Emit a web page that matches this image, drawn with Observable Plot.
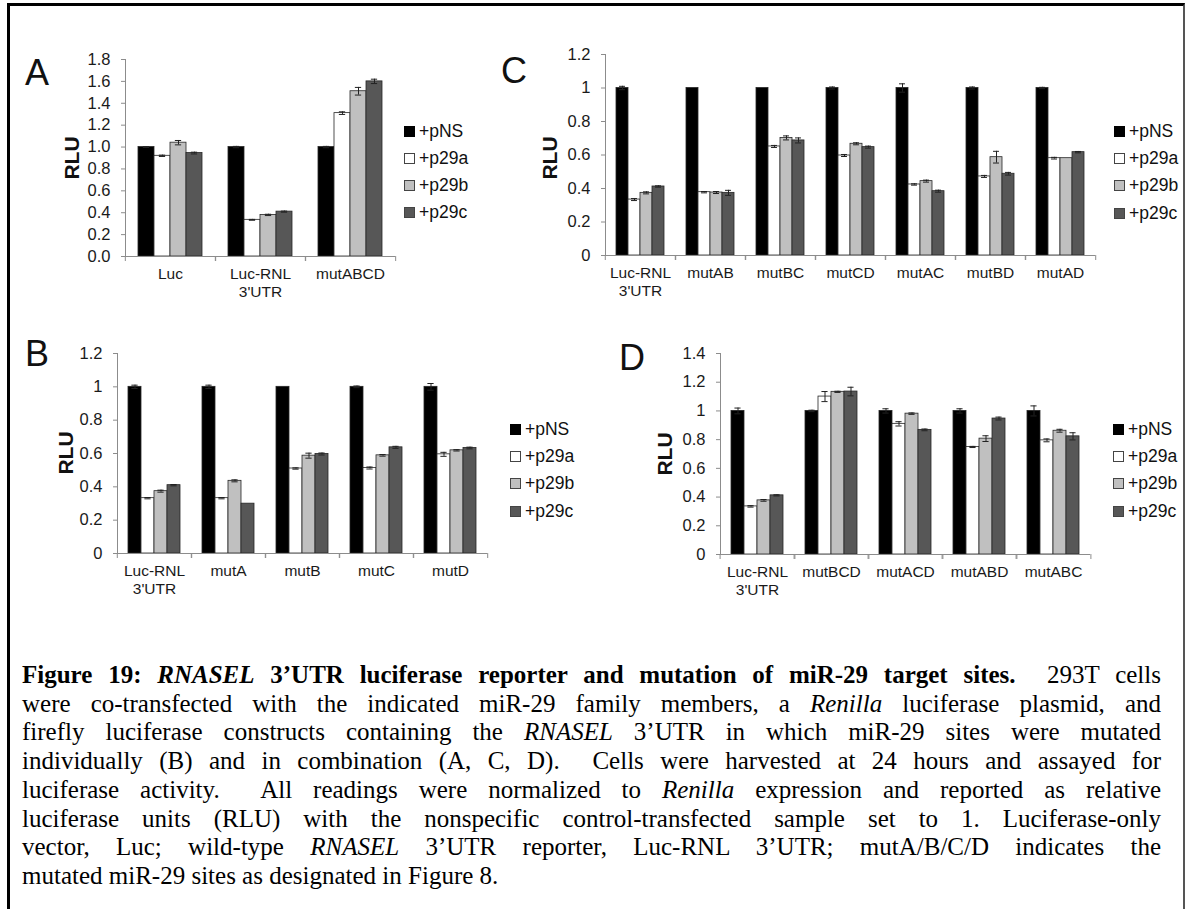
<!DOCTYPE html>
<html>
<head>
<meta charset="utf-8">
<script src="https://cdn.jsdelivr.net/npm/d3@7"></script>
<script src="https://cdn.jsdelivr.net/npm/@observablehq/plot@0.6"></script>
<style>
html, body { margin: 0; padding: 0; background: #fff; }
#fig { position: relative; width: 1186px; height: 909px; overflow: hidden; background: #fff; font-family: "Liberation Sans", Arial, sans-serif; }
#border { position: absolute; left: 7px; top: 3px; width: 1173px; height: 940px; border-top: 3px solid #000; border-left: 3px solid #000; border-right: 2px solid #555; pointer-events: none; z-index: 5; }
.panel { position: absolute; z-index: 1; }
.letter { position: absolute; font-size: 36px; line-height: 36px; color: #111; z-index: 2; }
.rlu { position: absolute; font-size: 21px; font-weight: bold; line-height: 1; white-space: nowrap; color: #111; transform: translate(-50%, -50%) rotate(-90deg); z-index: 2; }
.legend { position: absolute; font-size: 17.5px; color: #111; z-index: 2; }
.legend .row { display: flex; align-items: center; height: 27.3px; }
.legend .sw { width: 11px; height: 11px; box-sizing: border-box; margin-right: 4px; }
#caption { position: absolute; left: 22px; top: 661px; width: 1139px; font-family: "Liberation Serif", "Times New Roman", serif; font-size: 25px; line-height: 28.7px; color: #000; z-index: 2; }
#caption .ln { white-space: nowrap; text-align: justify; text-align-last: justify; }
#caption .ln.last { text-align: left; text-align-last: left; }
</style>
</head>
<body>
<div id="fig">
  <div id="border"></div>
  <div id="caption">
    <div class="ln"><b>Figure 19: <i>RNASEL</i> 3’UTR luciferase reporter and mutation of miR-29 target sites.</b>&nbsp; 293T cells</div>
    <div class="ln">were co-transfected with the indicated miR-29 family members, a <i>Renilla</i> luciferase plasmid, and</div>
    <div class="ln">firefly luciferase constructs containing the <i>RNASEL</i> 3’UTR in which miR-29 sites were mutated</div>
    <div class="ln">individually (B) and in combination (A, C, D).&nbsp; Cells were harvested at 24 hours and assayed for</div>
    <div class="ln">luciferase activity.&nbsp; All readings were normalized to <i>Renilla</i> expression and reported as relative</div>
    <div class="ln">luciferase units (RLU) with the nonspecific control-transfected sample set to 1. Luciferase-only</div>
    <div class="ln">vector, Luc; wild-type <i>RNASEL</i> 3’UTR reporter, Luc-RNL 3’UTR; mutA/B/C/D indicates the</div>
    <div class="ln last">mutated miR-29 sites as designated in Figure 8.</div>
  </div>
</div>
<script>
// ---------- data ----------
const series = ["+pNS", "+p29a", "+p29b", "+p29c"];
const seriesColors = ["#000000", "#ffffff", "#c0c0c0", "#575757"];

// Panel A
const groupsA = ["Luc", "Luc-RNL\n3'UTR", "mutABCD"];
const pNS_A  = [1.00, 1.00, 1.00];
const p29a_A = [0.92, 0.335, 1.31];
const p29b_A = [1.04, 0.38, 1.51];
const p29c_A = [0.945, 0.41, 1.60];
const err_pNS_A  = [0.004, 0.006, 0.006];
const err_p29a_A = [0.006, 0.004, 0.012];
const err_p29b_A = [0.02, 0.006, 0.035];
const err_p29c_A = [0.008, 0.005, 0.02];
const yTicksA = [0, 0.2, 0.4, 0.6, 0.8, 1.0, 1.2, 1.4, 1.6, 1.8];

// Panel B
const groupsB = ["Luc-RNL\n3'UTR", "mutA", "mutB", "mutC", "mutD"];
const pNS_B  = [1.00, 1.00, 1.00, 1.00, 1.00];
const p29a_B = [0.332, 0.332, 0.51, 0.513, 0.595];
const p29b_B = [0.374, 0.436, 0.587, 0.589, 0.619];
const p29c_B = [0.41, 0.299, 0.597, 0.637, 0.633];
const err_pNS_B  = [0.01, 0.01, 0.0, 0.005, 0.02];
const err_p29a_B = [0.004, 0.004, 0.004, 0.006, 0.012];
const err_p29b_B = [0.006, 0.006, 0.015, 0.005, 0.004];
const err_p29c_B = [0.004, 0.0, 0.006, 0.006, 0.005];
const yTicksB = [0, 0.2, 0.4, 0.6, 0.8, 1, 1.2];

// Panel C
const groupsC = ["Luc-RNL\n3'UTR", "mutAB", "mutBC", "mutCD", "mutAC", "mutBD", "mutAD"];
const pNS_C  = [1.00, 1.00, 1.00, 1.00, 1.00, 1.00, 1.00];
const p29a_C = [0.334, 0.378, 0.651, 0.597, 0.424, 0.472, 0.581];
const p29b_C = [0.374, 0.376, 0.702, 0.667, 0.444, 0.587, 0.581];
const p29c_C = [0.412, 0.374, 0.687, 0.647, 0.384, 0.488, 0.617];
const err_pNS_C  = [0.01, 0.0, 0.0, 0.006, 0.025, 0.006, 0.004];
const err_p29a_C = [0.006, 0.004, 0.006, 0.006, 0.004, 0.006, 0.005];
const err_p29b_C = [0.006, 0.006, 0.012, 0.006, 0.006, 0.035, 0.0];
const err_p29c_C = [0.004, 0.015, 0.015, 0.006, 0.006, 0.008, 0.004];
const yTicksC = [0, 0.2, 0.4, 0.6, 0.8, 1, 1.2];

// Panel D
const groupsD = ["Luc-RNL\n3'UTR", "mutBCD", "mutACD", "mutABD", "mutABC"];
const pNS_D  = [1.00, 1.00, 1.00, 1.00, 1.00];
const p29a_D = [0.335, 1.10, 0.91, 0.749, 0.795];
const p29b_D = [0.377, 1.133, 0.981, 0.807, 0.862];
const p29c_D = [0.412, 1.135, 0.868, 0.947, 0.823];
const err_pNS_D  = [0.02, 0.005, 0.015, 0.015, 0.035];
const err_p29a_D = [0.005, 0.035, 0.015, 0.004, 0.01];
const err_p29b_D = [0.006, 0.004, 0.005, 0.02, 0.01];
const err_p29c_D = [0.004, 0.03, 0.006, 0.01, 0.025];
const yTicksD = [0, 0.2, 0.4, 0.6, 0.8, 1, 1.2, 1.4];

// ---------- drawing ----------
const axisGrey = "#8c8c8c";
const textColor = "#1a1a1a";
const fig = document.getElementById("fig");

function drawPanel(cfg) {
  const {groups, vals, errs, yMax, yTicks, yFmt, box, frame, letter, rlu, legend} = cfg;
  const rows = groups.flatMap((g, gi) => series.map((s, si) => ({group: g, series: s, value: vals[si][gi], err: errs[si][gi]})));
  const withErr = rows.filter(d => d.err > 0);
  const plotW = box.width - frame.left - frame.right;
  const groupW = plotW / groups.length;
  const half = groupW / 2;
  const bw = groupW / (series.length + 1.4);
  const capInset = Math.max(0, (bw - 7) / 2);

  const chart = Plot.plot({
    width: box.width,
    height: box.height,
    marginLeft: frame.left,
    marginRight: frame.right,
    marginTop: frame.top,
    marginBottom: frame.bottom,
    style: {background: "transparent", fontFamily: "'Liberation Sans', Arial, sans-serif", color: textColor, overflow: "visible"},
    fx: {domain: groups, padding: 0, axis: null, label: null},
    x: {domain: series, paddingInner: 0, paddingOuter: 0.7, axis: null},
    y: {domain: [0, yMax], axis: null},
    color: {domain: series, range: seriesColors},
    marks: [
      Plot.barY(rows, {fx: "group", x: "series", y: "value", fill: "series", stroke: "#262626", strokeWidth: 0.8}),
      Plot.ruleX(withErr, {fx: "group", x: "series", y1: d => d.value - d.err, y2: d => d.value + d.err, stroke: "#222", strokeWidth: 1}),
      Plot.tickY(withErr, {fx: "group", x: "series", y: d => d.value + d.err, insetLeft: capInset, insetRight: capInset, stroke: "#222", strokeWidth: 1}),
      Plot.tickY(withErr, {fx: "group", x: "series", y: d => d.value - d.err, insetLeft: capInset, insetRight: capInset, stroke: "#222", strokeWidth: 1}),
      Plot.ruleY([0], {stroke: axisGrey, strokeWidth: 1}),
      Plot.frame({anchor: "left", facetAnchor: "left", stroke: axisGrey, strokeWidth: 1}),
      Plot.axisY({ticks: yTicks, tickFormat: yFmt, tickSize: 4, tickPadding: 11, fontSize: 16.5, stroke: axisGrey, fill: textColor, label: null}),
      Plot.axisFx({anchor: "bottom", tickSize: 0, tickPadding: 10, fontSize: 15.5, lineHeight: 1.16, fill: textColor, label: null}),
      Plot.axisFx({anchor: "bottom", tickSize: 5, tickFormat: () => "", dx: half, stroke: axisGrey, label: null}),
      Plot.axisFx({anchor: "bottom", tickSize: 5, tickFormat: () => "", dx: -half, stroke: axisGrey, label: null})
    ]
  });
  const wrap = document.createElement("div");
  wrap.className = "panel";
  wrap.style.left = box.left + "px";
  wrap.style.top = box.top + "px";
  wrap.style.width = box.width + "px";
  wrap.appendChild(chart);
  fig.appendChild(wrap);

  const L = document.createElement("div");
  L.className = "letter";
  L.textContent = letter.text;
  L.style.left = letter.x + "px";
  L.style.top = letter.y + "px";
  fig.appendChild(L);

  const R = document.createElement("div");
  R.className = "rlu";
  R.textContent = "RLU";
  R.style.left = rlu.x + "px";
  R.style.top = rlu.y + "px";
  fig.appendChild(R);

  const lg = document.createElement("div");
  lg.className = "legend";
  lg.style.left = legend.x + "px";
  lg.style.top = legend.y + "px";
  series.forEach((s, i) => {
    const row = document.createElement("div");
    row.className = "row";
    const sw = document.createElement("span");
    sw.className = "sw";
    sw.style.background = seriesColors[i];
    sw.style.border = "1px solid " + (i === 0 ? "#000" : "#444");
    const t = document.createElement("span");
    t.textContent = s;
    row.appendChild(sw);
    row.appendChild(t);
    lg.appendChild(row);
  });
  fig.appendChild(lg);
}

const fmt1 = d3.format(".1f");
const fmtG = d => d3.format("~g")(d);

drawPanel({
  groups: groupsA, vals: [pNS_A, p29a_A, p29b_A, p29c_A], errs: [err_pNS_A, err_p29a_A, err_p29b_A, err_p29c_A],
  yMax: 1.8, yTicks: yTicksA, yFmt: fmt1,
  box: {left: 60, top: 40, width: 340, height: 270}, frame: {left: 64, right: 5, top: 19, bottom: 54},
  letter: {text: "A", x: 25, y: 55}, rlu: {x: 70.5, y: 158}, legend: {x: 404, y: 117.4}
});
drawPanel({
  groups: groupsB, vals: [pNS_B, p29a_B, p29b_B, p29c_B], errs: [err_pNS_B, err_p29a_B, err_p29b_B, err_p29c_B],
  yMax: 1.2, yTicks: yTicksB, yFmt: fmtG,
  box: {left: 60, top: 335, width: 440, height: 280}, frame: {left: 56, right: 12, top: 18, bottom: 62},
  letter: {text: "B", x: 25, y: 336}, rlu: {x: 64.5, y: 452.5}, legend: {x: 510, y: 415.5}
});
drawPanel({
  groups: groupsC, vals: [pNS_C, p29a_C, p29b_C, p29c_C], errs: [err_pNS_C, err_p29a_C, err_p29b_C, err_p29c_C],
  yMax: 1.2, yTicks: yTicksC, yFmt: fmtG,
  box: {left: 540, top: 35, width: 560, height: 280}, frame: {left: 63, right: 4, top: 19, bottom: 60},
  letter: {text: "C", x: 501, y: 53}, rlu: {x: 549, y: 158}, legend: {x: 1114, y: 117.5}
});
drawPanel({
  groups: groupsD, vals: [pNS_D, p29a_D, p29b_D, p29c_D], errs: [err_pNS_D, err_p29a_D, err_p29b_D, err_p29c_D],
  yMax: 1.4, yTicks: yTicksD, yFmt: fmtG,
  box: {left: 650, top: 335, width: 450, height: 280}, frame: {left: 68, right: 8, top: 18, bottom: 61},
  letter: {text: "D", x: 619, y: 340}, rlu: {x: 663.5, y: 453.5}, legend: {x: 1113, y: 415.5}
});
</script>
</body>
</html>
